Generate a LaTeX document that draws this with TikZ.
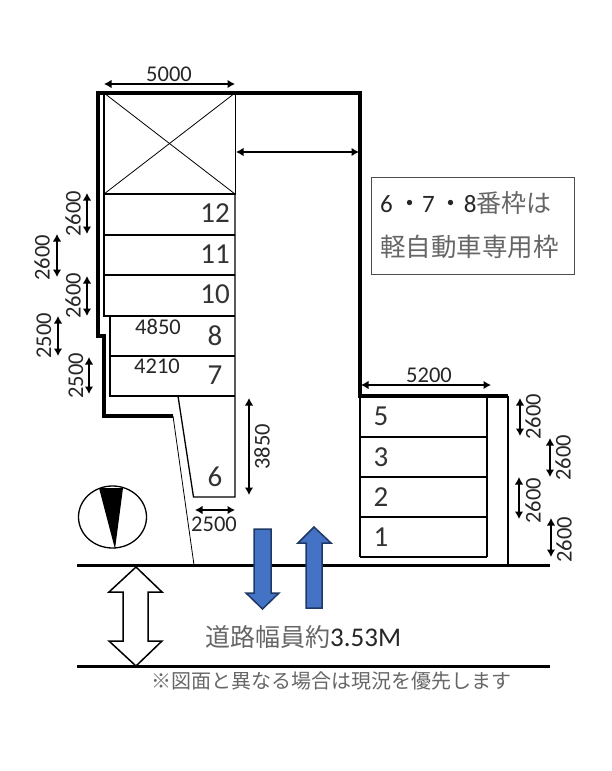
\documentclass[tikz,border=0pt]{standalone}
\usepackage{fontspec}
\setmainfont{Carlito}
\newfontfamily\jpfont{Noto Sans CJK JP}
\usetikzlibrary{arrows.meta}
\definecolor{roadblue}{HTML}{4472C4}
\definecolor{roadedge}{HTML}{1F3864}
\definecolor{jpgrey}{HTML}{666666}
\tikzset{
	wall/.style={line width=3.2pt, line join=miter},
	slotline/.style={line width=1.3pt},
	thinline/.style={line width=0.8pt},
	dimarrow/.style={<->, >={Latex[length=7.5pt,width=8.5pt]}, line width=1.3pt},
	dimtext/.style={inner sep=0pt, font=\fontsize{22.5}{22.5}\selectfont, text=black!85},
	slotnum/.style={inner sep=0pt, font=\fontsize{29}{29}\selectfont, text=black!80},
	roadarrow/.style={fill=roadblue, draw=roadedge, line width=1.5pt, line join=miter},
}

\begin{document}
\begin{tikzpicture}[x=1pt, y=-1pt]
			\useasboundingbox (0,0) rectangle (611,771);

			\draw[wall] (173,416) -- (104,416) -- (104,336) -- (98,336) -- (98,93) -- (360,93) -- (360,396) -- (508,396);
			\draw[slotline, line width=2.2pt] (508,396) -- (508,565);
			\draw[thinline] (173,416) -- (194,565);

			\draw[slotline, line width=2pt] (104,93) -- (104,316) -- (235,316);
			\draw[thinline] (104,93) rectangle (235,194);
			\draw[thinline] (104,93) -- (235,194);
			\draw[thinline] (235,93) -- (104,194);
			\draw[slotline] (104,194) -- (235,194);
			\draw[slotline, line width=2pt] (104,235) -- (235,235);
			\draw[slotline] (104,275) -- (235,275);
			\draw[slotline] (235,194) -- (235,497) -- (193.5,497) -- (178,396);
			\draw[slotline] (110,316) -- (110,396) -- (235,396);
			\draw[slotline, line width=2pt] (110,356) -- (235,356);

			\draw[slotline] (487,396) -- (487,557);
			\draw[slotline, line width=2.2pt] (360,557) -- (487,557);
			\draw[slotline, line width=2pt] (360,437) -- (487,437);
			\draw[slotline] (360,477) -- (487,477);
			\draw[slotline] (360,517) -- (487,517);
			\draw[slotline, line width=2pt] (360,396) -- (360,557);

			\node[slotnum] (slot12) at (215,213) {12};
			\node[slotnum] (slot11) at (215,254) {11};
			\node[slotnum] (slot10) at (215,294) {10};
			\node[slotnum] (slot8) at (215,336) {8};
			\node[slotnum] (slot7) at (215,375) {7};
			\node[slotnum] (slot6) at (215,477) {6};
			\node[slotnum] (slot5) at (381,416) {5};
			\node[slotnum] (slot3) at (381,457) {3};
			\node[slotnum] (slot2) at (381,497) {2};
			\node[slotnum] (slot1) at (381,537) {1};

			\node[dimtext] (len8) at (158,327) {4850};
			\node[dimtext] (len7) at (157,366) {4210};

			\draw[dimarrow] (104,84) -- (235,84);
			\node[dimtext] (top5000) at (169,74) {5000};
			\draw[dimarrow] (236,152) -- (359,152);
			\draw[dimarrow] (361,385) -- (491,385);
			\node[dimtext] (top5200) at (429,375) {5200};

			\draw[dimarrow] (87,193) -- (87,234);
			\node[dimtext, rotate=90] (left12) at (73,214) {2600};
			\draw[dimarrow] (57,234) -- (57,277);
			\node[dimtext, rotate=90] (left11) at (42,258) {2600};
			\draw[dimarrow] (87,276) -- (87,316);
			\node[dimtext, rotate=90] (left10) at (73,296) {2600};
			\draw[dimarrow] (58,316) -- (58,356);
			\node[dimtext, rotate=90] (left8) at (44,336) {2500};
			\draw[dimarrow] (89,357) -- (89,394);
			\node[dimtext, rotate=90] (left7) at (76,376) {2500};

			\draw[dimarrow] (249,398) -- (249,495);
			\node[dimtext, rotate=90] (depth6) at (262,447) {3850};
			\draw[dimarrow] (195,510) -- (235,510);
			\node[dimtext] (width6) at (214,524) {2500};

			\draw[dimarrow] (520,398) -- (520,436);
			\node[dimtext, rotate=90] (right5) at (533,417) {2600};
			\draw[dimarrow] (550,438) -- (550,477);
			\node[dimtext, rotate=90] (right3) at (563,458) {2600};
			\draw[dimarrow] (519,477) -- (519,519);
			\node[dimtext, rotate=90] (right2) at (533,501) {2600};
			\draw[dimarrow] (551,518) -- (551,557);
			\node[dimtext, rotate=90] (right1) at (564,540) {2600};

			\node[draw=black!70, line width=1pt, minimum width=203pt, minimum height=97pt, inner sep=0pt] (notebox) at (472.5,225.5) {};
			\node[inner sep=0pt, anchor=west, text=jpgrey, font=\fontsize{25}{25}\selectfont] (noteone) at (380,203) {\textcolor{black!85}{6\,{\jpfont ・}7\,{\jpfont ・}8}\jpfont 番枠は};
			\node[inner sep=0pt, anchor=west, text=jpgrey, font=\jpfont\fontsize{25.5}{25.5}\selectfont] (notetwo) at (380,247) {軽自動車専用枠};

			\draw[line width=1.3pt] (112.5,517) ellipse (34 and 31);
			\fill (99,488) -- (123,488) -- (115,549) -- cycle;

			\draw[line width=3pt] (77,565) -- (550,565);
			\draw[line width=3pt] (77,666) -- (550,666);

			\draw[roadarrow] (254,529) -- (271,529) -- (271,593) -- (279,593) -- (262.5,609) -- (246,593) -- (254,593) -- cycle;
			\draw[roadarrow] (306,608) -- (322,608) -- (322,543) -- (331,543) -- (314,527) -- (298,543) -- (306,543) -- cycle;

			\draw[fill=white, line width=1.5pt, line join=miter] (136,567) -- (162,592) -- (148,592) -- (148,641) -- (162,641) -- (136,666) -- (109,641) -- (123,641) -- (123,592) -- (109,592) -- cycle;

			\node[inner sep=0pt, anchor=west, text=jpgrey, font=\jpfont\fontsize{25}{25}\selectfont] (roadwidth) at (205,637) {道路幅員約{\rmfamily\textcolor{black!85}{\fontsize{27}{27}\selectfont 3.53M}}};
			\node[inner sep=0pt, anchor=west, text=jpgrey, font=\jpfont\fontsize{20}{20}\selectfont] (caveat) at (151,681) {※図面と異なる場合は現況を優先します};
		\end{tikzpicture}
\end{document}
